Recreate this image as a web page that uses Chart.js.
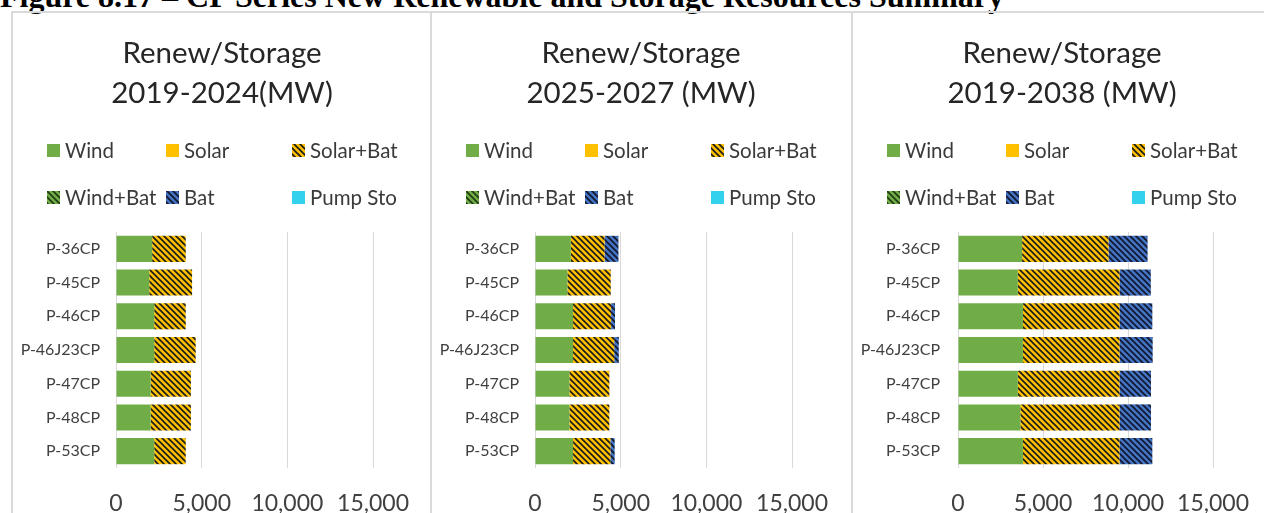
<!DOCTYPE html>
<html>
<head>
<meta charset="utf-8">
<script src="https://cdn.jsdelivr.net/npm/chart.js@4/dist/chart.umd.min.js"></script>
<style>
  html, body { margin: 0; padding: 0; background: #fff; }
  body { width: 1264px; height: 513px; overflow: hidden; position: relative; }
  .fig-title {
    position: absolute; left: 0; top: -20px; white-space: nowrap;
    font: bold 32px "Liberation Serif", "Times New Roman", serif; line-height: 32px; color: #000;
  }
  .panel {
    position: absolute; top: 11px; height: 510px; overflow: hidden;
    border-left: 2px solid #d9d9d9; border-top: 2px solid #d9d9d9;
  }
  .panel canvas { display: block; }
</style>
</head>
<body>
<div class="fig-title">Figure 8.17 – CP Series New Renewable and Storage Resources Summary</div>
<div class="panel" style="left:11px;width:417px"><canvas id="c1" width="418" height="510"></canvas></div>
<div class="panel" style="left:430px;width:419px"><canvas id="c2" width="418" height="510"></canvas></div>
<div class="panel" style="left:851px;width:413px"><canvas id="c3" width="418" height="510"></canvas></div>
<script>
const FONT = "Lato, 'Open Sans', sans-serif";

// portfolios on the category axis
const categories = ["P-36CP", "P-45CP", "P-46CP", "P-46J23CP", "P-47CP", "P-48CP", "P-53CP"];
const seriesNames = ["Wind", "Solar", "Solar+Bat", "Wind+Bat", "Bat", "Pump Sto"];
const xTicks = [0, 5000, 10000, 15000];
const zeros = [0, 0, 0, 0, 0, 0, 0];

// 2019-2024 (MW)
const wind1 = [2110, 1940, 2230, 2230, 2020, 2020, 2230];
const solarBat1 = [1960, 2500, 1840, 2420, 2350, 2350, 1840];
const bat1 = [0, 0, 0, 0, 0, 0, 0];

// 2025-2027 (MW)
const wind2 = [2090, 1890, 2220, 2220, 2010, 2010, 2220];
const solarBat2 = [1970, 2530, 2220, 2400, 2330, 2330, 2180];
const bat2 = [810, 0, 230, 270, 0, 0, 250];

// 2019-2038 (MW)
const wind3 = [3770, 3520, 3820, 3820, 3520, 3670, 3820];
const solarBat3 = [5080, 5980, 5680, 5680, 5980, 5830, 5680];
const bat3 = [2300, 1840, 1930, 1950, 1850, 1850, 1930];

const titles = [
  ["Renew/Storage", "2019-2024(MW)"],
  ["Renew/Storage", "2025-2027 (MW)"],
  ["Renew/Storage", "2019-2038 (MW)"]
];

// diagonal hatch fill, like Excel's "dark downward diagonal"
function hatch(bg, fg) {
  const c = document.createElement("canvas");
  c.width = c.height = 6;
  const g = c.getContext("2d");
  g.fillStyle = bg;
  g.fillRect(0, 0, 6, 6);
  g.strokeStyle = fg;
  g.lineWidth = 1.6;
  g.beginPath();
  g.moveTo(-1, -1); g.lineTo(7, 7);
  g.moveTo(-1, 5); g.lineTo(1, 7);
  g.moveTo(5, -1); g.lineTo(7, 1);
  g.stroke();
  return g.createPattern(c, "repeat");
}

const fills = [
  "#70ad47",
  "#ffc000",
  hatch("#ffc000", "#1a1a1a"),
  hatch("#70ad47", "#1e3a10"),
  hatch("#4472c4", "#101828"),
  "#33d1ec"
];

// title + legend laid out in a fixed three-column grid above the plot
const headerPlugin = {
  id: "panelHeader",
  afterDraw(chart, args, opts) {
    const ctx = chart.ctx;
    ctx.save();
    ctx.textBaseline = "middle";
    ctx.textAlign = "center";
    ctx.fillStyle = "#262626";
    ctx.font = "29.5px " + FONT;
    opts.title.forEach((line, i) => ctx.fillText(line, 209, 40 + i * 40));

    ctx.textAlign = "left";
    ctx.font = "20.5px " + FONT;
    const cols = [34, 153, 279];
    const rows = [137, 184];
    chart.data.datasets.forEach((ds, i) => {
      const x = cols[i % 3], y = rows[Math.floor(i / 3)];
      ctx.fillStyle = ds.backgroundColor;
      ctx.fillRect(x, y - 6, 13, 13);
      ctx.fillStyle = "#3a3a3a";
      ctx.fillText(ds.label, x + 18, y + 1);
    });
    ctx.restore();
  }
};

function makeChart(id, title, wind, solarBat, bat, axisWidth) {
  const values = [wind, zeros, solarBat, zeros, bat, zeros];
  return new Chart(document.getElementById(id), {
    type: "bar",
    data: {
      labels: categories,
      datasets: seriesNames.map((name, i) => ({
        label: name,
        data: values[i],
        backgroundColor: fills[i],
        borderWidth: 0,
        barPercentage: 0.86,
        categoryPercentage: 0.9
      }))
    },
    plugins: [headerPlugin],
    options: {
      indexAxis: "y",
      responsive: false,
      animation: false,
      layout: { padding: { top: 219, right: 57 - (axisWidth - 103), left: 0, bottom: 0 } },
      plugins: {
        legend: { display: false },
        tooltip: { enabled: false },
        panelHeader: { title: title }
      },
      scales: {
        x: {
          stacked: true,
          min: 0,
          max: 15000,
          afterBuildTicks: (s) => { s.ticks = xTicks.map((v) => ({ value: v })); },
          afterFit: (s) => { s.height = 55; },
          grid: { color: "#d9d9d9", drawTicks: false },
          border: { display: false },
          ticks: {
            padding: 22,
            color: "#404040",
            font: { family: FONT, size: 23 },
            maxRotation: 0,
            callback: (v) => v.toLocaleString("en-US")
          }
        },
        y: {
          stacked: true,
          afterFit: (s) => { s.width = axisWidth; },
          grid: { display: false, drawTicks: false },
          border: { display: false },
          ticks: {
            padding: 16 + (axisWidth - 103),
            color: "#404040",
            font: { family: FONT, size: 16 }
          }
        }
      }
    }
  });
}

makeChart("c1", titles[0], wind1, solarBat1, bat1, 103);
makeChart("c2", titles[1], wind2, solarBat2, bat2, 103);
makeChart("c3", titles[2], wind3, solarBat3, bat3, 105);
</script>
</body>
</html>
